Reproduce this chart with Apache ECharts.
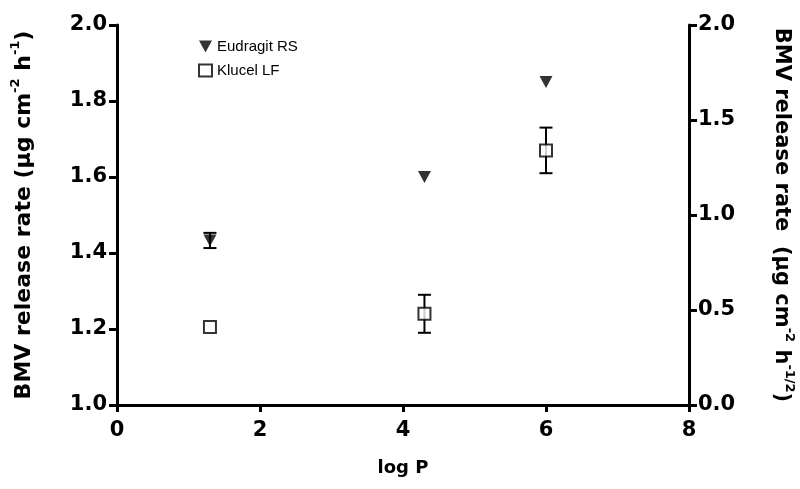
<!DOCTYPE html>
<html><head><meta charset="utf-8">
<script src="https://cdn.jsdelivr.net/npm/echarts@6/dist/echarts.min.js"></script>
<style>html,body{margin:0;padding:0;background:#fff}#c{width:800px;height:489px}</style>
</head><body><div id="c"></div>
<script>
const logP = [1.3, 4.3, 6.0];
const eudragit = [1.433, 1.60, 1.85];
const eudragitErr = [0.02, 0.0, 0.0];
const klucel = [0.41, 0.48, 1.34];
const klucelErr = [0.0, 0.10, 0.12];
const xTicks = [0, 2, 4, 6, 8];
const leftTicks = [1.0, 1.2, 1.4, 1.6, 1.8, 2.0];
const rightTicks = [0.0, 0.5, 1.0, 1.5, 2.0];

const FF = '"Liberation Sans", Arial, sans-serif';
const FB = '"DejaVu Sans", sans-serif';
const chart = echarts.init(document.getElementById('c'));

function errSeries(name, vals, errs, yIdx) {
  return {
    type: 'custom', name: name + ' err', yAxisIndex: yIdx, silent: true, z: 1,
    data: logP.map((x, i) => [x, vals[i], errs[i]]),
    renderItem: function (params, api) {
      const x = api.value(0), y = api.value(1), e = api.value(2);
      if (!e) return null;
      const top = api.coord([x, y + e]);
      const bot = api.coord([x, y - e]);
      const w = 6.5;
      const st = { stroke: '#000', lineWidth: 2 };
      return { type: 'group', children: [
        { type: 'line', shape: { x1: top[0], y1: top[1], x2: bot[0], y2: bot[1] }, style: st },
        { type: 'line', shape: { x1: top[0] - w, y1: top[1], x2: top[0] + w, y2: top[1] }, style: st },
        { type: 'line', shape: { x1: bot[0] - w, y1: bot[1], x2: bot[0] + w, y2: bot[1] }, style: st }
      ]};
    }
  };
}

const axisLine = { show: true, lineStyle: { color: '#000', width: 3 } };
const axisTick = { show: true, inside: false, length: 8, lineStyle: { color: '#000', width: 3 } };
const tickLabel = { color: '#000', fontFamily: FB, fontWeight: 'bold', fontSize: 21 };
function titleRich(sz) {
  return {
    n: { fontFamily: FB, fontWeight: 'bold', fontSize: sz, color: '#000' },
    s: { fontFamily: FB, fontWeight: 'bold', fontSize: Math.round(sz * 0.6), color: '#000', verticalAlign: 'top', lineHeight: 30 }
  };
}

chart.setOption({
  animation: false,
  grid: { left: 117, right: 111, top: 25, bottom: 84, outerBoundsMode: 'none', containLabel: false },
  legend: {
    orient: 'vertical', left: 193, top: 34, itemGap: 9, itemWidth: 13, itemHeight: 12,
    textStyle: { fontFamily: FF, fontSize: 15, color: '#000' },
    data: [
      { name: 'Eudragit RS', icon: 'path://M0,0 L12,0 L6,11 Z', itemStyle: { color: '#000' } },
      { name: 'Klucel LF', icon: 'rect', itemStyle: { color: '#fff', borderColor: '#000', borderWidth: 2 } }
    ]
  },
  xAxis: {
    type: 'value', min: 0, max: 8, interval: 2,
    name: 'log P', nameLocation: 'middle', nameGap: 54,
    nameTextStyle: { color: '#000', fontFamily: FB, fontWeight: 'bold', fontSize: 18 },
    axisLine: axisLine, axisTick: { show: true, length: 7, lineStyle: { color: '#000', width: 3 } },
    axisLabel: Object.assign({ margin: 15, customValues: xTicks }, tickLabel),
    splitLine: { show: false }
  },
  yAxis: [{
    type: 'value', min: 1.0, max: 2.0, interval: 0.2, position: 'left',
    name: '{n|BMV release rate (µg cm}{s|-2}{n| h}{s|-1}{n|)}',
    nameLocation: 'middle', nameGap: 78, nameRotate: 90,
    nameTextStyle: { rich: titleRich(22) },
    axisLine: axisLine, axisTick: axisTick,
    axisLabel: Object.assign({ margin: 10, formatter: v => v.toFixed(1) }, tickLabel),
    splitLine: { show: false }
  }, {
    type: 'value', min: 0, max: 2.0, interval: 0.5, position: 'right',
    name: '{n|BMV release rate  (µg cm}{s|-2}{n| h}{s|-1/2}{n|)}',
    nameLocation: 'middle', nameGap: 77, nameRotate: -90,
    nameTextStyle: { rich: titleRich(21) },
    axisLine: axisLine, axisTick: axisTick,
    axisLabel: Object.assign({ margin: 9, formatter: v => v.toFixed(1) }, tickLabel),
    splitLine: { show: false }
  }],
  series: [
    errSeries('Eudragit RS', eudragit, eudragitErr, 0),
    errSeries('Klucel LF', klucel, klucelErr, 1),
    {
      name: 'Eudragit RS', type: 'scatter', yAxisIndex: 0, z: 3,
      symbol: 'triangle', symbolRotate: 180, symbolSize: [13, 12],
      itemStyle: { color: '#000' },
      data: logP.map((x, i) => [x, eudragit[i]])
    },
    {
      name: 'Klucel LF', type: 'scatter', yAxisIndex: 1, z: 3,
      symbol: 'rect', symbolSize: 12,
      itemStyle: { color: '#fff', borderColor: '#000', borderWidth: 2 },
      data: logP.map((x, i) => [x, klucel[i]])
    }
  ]
});
</script></body></html>
